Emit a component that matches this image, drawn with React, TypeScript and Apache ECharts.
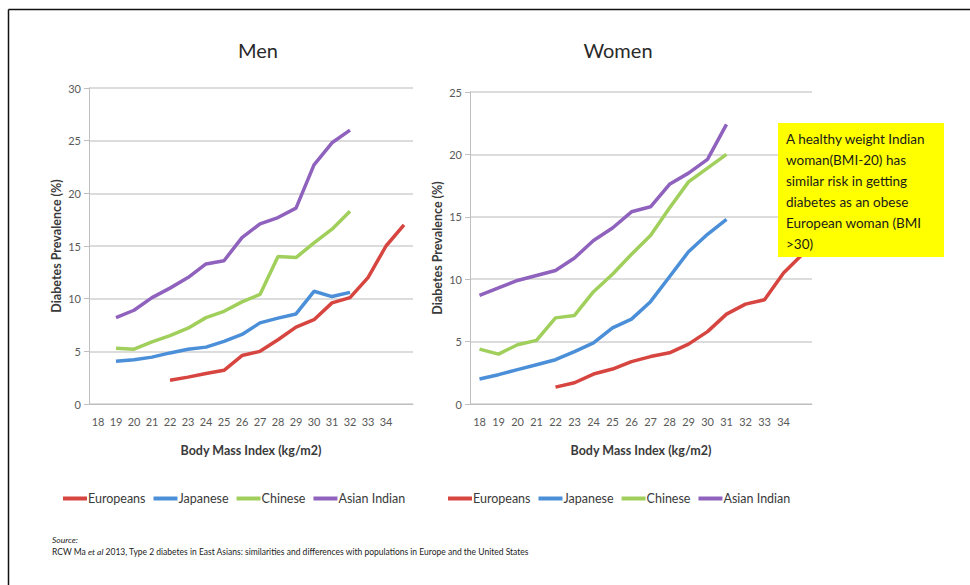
import React, { useEffect, useRef } from "react";
import * as echarts from "echarts";

const bmiLabels = ["18", "19", "20", "21", "22", "23", "24", "25", "26", "27", "28", "29", "30", "31", "32", "33", "34", ""];
const seriesNames = ["Europeans", "Japanese", "Chinese", "Asian Indian"];
const seriesColors = ["#d6453f", "#4a8fd8", "#a0cf5c", "#8f62bd"];

const menEuropeans = [null, null, null, null, 2.25, 2.55, 2.9, 3.2, 4.6, 5.0, 6.1, 7.3, 8.0, 9.6, 10.1, 12.0, 15.0, 17.0];
const menJapanese = [null, 4.05, 4.2, 4.45, 4.85, 5.2, 5.4, 5.95, 6.6, 7.7, 8.15, 8.55, 10.7, 10.2, 10.6, null, null, null];
const menChinese = [null, 5.3, 5.2, 5.9, 6.5, 7.2, 8.2, 8.8, 9.7, 10.4, 14.0, 13.9, 15.3, 16.6, 18.3, null, null, null];
const menAsianIndian = [null, 8.2, 8.9, 10.1, 11.0, 12.0, 13.3, 13.6, 15.8, 17.1, 17.7, 18.6, 22.7, 24.8, 26.0, null, null, null];

const womenEuropeans = [null, null, null, null, 1.35, 1.7, 2.4, 2.8, 3.4, 3.8, 4.1, 4.8, 5.8, 7.2, 8.0, 8.35, 10.5, 12.0];
const womenJapanese = [2.0, 2.35, 2.75, 3.15, 3.55, 4.2, 4.9, 6.1, 6.8, 8.2, 10.2, 12.2, 13.6, 14.8, null, null, null, null];
const womenChinese = [4.4, 4.0, 4.75, 5.1, 6.9, 7.1, 9.0, 10.4, 12.0, 13.5, 15.7, 17.8, 18.9, 20.0, null, null, null, null];
const womenAsianIndian = [8.7, 9.3, 9.9, 10.3, 10.7, 11.7, 13.1, 14.1, 15.4, 15.8, 17.6, 18.5, 19.6, 22.4, null, null, null, null];

const menYTicks = { min: 0, max: 30, interval: 5 };
const womenYTicks = { min: 0, max: 25, interval: 5 };

const boxLines = [
  "A healthy weight Indian",
  "woman(BMI-20) has",
  "similar risk in getting",
  "diabetes as an obese",
  "European woman (BMI",
  ">30)",
];

const FONT = "Lato, 'Open Sans', sans-serif";

export default function App() {
  const ref = useRef<HTMLDivElement>(null);
  useEffect(() => {
    if (!ref.current) return;
    const chart = echarts.init(ref.current, null, { renderer: "svg" });

    const menData = [menEuropeans, menJapanese, menChinese, menAsianIndian];
    const womenData = [womenEuropeans, womenJapanese, womenChinese, womenAsianIndian];

    const xAxisBase = (gridIndex: number) => ({
      gridIndex,
      type: "category",
      data: bmiLabels,
      boundaryGap: true,
      axisLine: { show: true, lineStyle: { color: "#bfbfbf", width: 1 } },
      axisTick: { show: false },
      axisLabel: { interval: 0, color: "#595959", fontSize: 11, margin: 12, fontFamily: FONT },
      name: "Body Mass Index (kg/m2)",
      nameLocation: "middle",
      nameGap: 40,
      nameTextStyle: { fontWeight: "bold", fontSize: 12.5, color: "#3a3a3a", fontFamily: FONT },
      splitLine: { show: false },
    });

    const yAxisBase = (gridIndex: number, t: { min: number; max: number; interval: number }) => ({
      gridIndex,
      type: "value",
      min: t.min,
      max: t.max,
      interval: t.interval,
      axisLine: { show: true, lineStyle: { color: "#bfbfbf", width: 1 } },
      axisTick: { show: true, length: 5, lineStyle: { color: "#bfbfbf" } },
      splitLine: { show: true, lineStyle: { color: "#d0d0d0", width: 1.5 } },
      axisLabel: { color: "#595959", fontSize: 11, margin: 8, fontFamily: FONT },
      name: "Diabetes Prevalence (%)",
      nameLocation: "middle",
      nameGap: 26,
      nameTextStyle: { fontWeight: "bold", fontSize: 12.5, color: "#3a3a3a", fontFamily: FONT },
    });

    const makeSeries = (data: (number | null)[][], idx: number) =>
      data.map((d, i) => ({
        name: seriesNames[i],
        type: "line",
        xAxisIndex: idx,
        yAxisIndex: idx,
        data: d,
        symbol: "none",
        connectNulls: false,
        lineStyle: { width: 3.5, color: seriesColors[i] },
        itemStyle: { color: seriesColors[i] },
        z: 3,
      }));

    const legendBase = (left: number) => ({
      left,
      top: 487,
      data: seriesNames,
      icon: "rect",
      itemWidth: 24,
      itemHeight: 4,
      itemGap: 8,
      selectedMode: false,
      textStyle: { fontSize: 12.5, color: "#3a3a3a", fontFamily: FONT, padding: [0, 0, 0, -4] },
    });

    const option = {
      animation: false,
      backgroundColor: "#ffffff",
      color: seriesColors,
      textStyle: { fontFamily: FONT },
      grid: [
        { left: 89, top: 88, width: 324, height: 316, containLabel: false },
        { left: 470, top: 92, width: 342, height: 312, containLabel: false },
      ],
      xAxis: [xAxisBase(0), xAxisBase(1)],
      yAxis: [yAxisBase(0, menYTicks), yAxisBase(1, womenYTicks)],
      legend: [legendBase(58), legendBase(443)],
      series: [...makeSeries(menData, 0), ...makeSeries(womenData, 1)],
      graphic: [
        {
          type: "line",
          shape: { x1: 8.5, y1: 9.5, x2: 970, y2: 9.5 },
          style: { stroke: "#111111", lineWidth: 1.5 },
          z: 100,
        },
        {
          type: "line",
          shape: { x1: 8.5, y1: 9.5, x2: 8.5, y2: 585 },
          style: { stroke: "#111111", lineWidth: 1.5 },
          z: 100,
        },
        {
          type: "text",
          x: 258,
          y: 50,
          style: { text: "Men", fontSize: 20, fill: "#2a2a2a", fontFamily: FONT, align: "center", verticalAlign: "middle" },
          z: 100,
        },
        {
          type: "text",
          x: 618,
          y: 50,
          style: { text: "Women", fontSize: 20, fill: "#2a2a2a", fontFamily: FONT, align: "center", verticalAlign: "middle" },
          z: 100,
        },
        {
          type: "group",
          z: 100,
          children: [
            {
              type: "rect",
              shape: { x: 778, y: 123, width: 166, height: 134 },
              style: { fill: "#ffff00" },
              z: 100,
            },
            {
              type: "text",
              x: 786,
              y: 128,
              style: {
                text: boxLines.join("\n"),
                fontSize: 13.5,
                lineHeight: 21,
                fill: "#1a1a1a",
                fontFamily: FONT,
                align: "left",
                verticalAlign: "top",
              },
              z: 101,
            },
          ],
        },
        {
          type: "text",
          x: 52,
          y: 540,
          style: { text: "Source:", fontSize: 8.5, fontStyle: "italic", fill: "#222222", fontFamily: FONT, verticalAlign: "middle" },
          z: 100,
        },
        {
          type: "text",
          x: 52,
          y: 552,
          style: {
            text: "{n|RCW Ma }{i|et al}{n| 2013, Type 2 diabetes in East Asians: similarities and differences with populations in Europe and the United States}",
            verticalAlign: "middle",
            rich: {
              n: { fontSize: 8.5, fill: "#222222", fontFamily: FONT },
              i: { fontSize: 8.5, fill: "#222222", fontFamily: FONT, fontStyle: "italic" },
            },
          },
          z: 100,
        },
      ],
    };

    chart.setOption(option as any);
    return () => chart.dispose();
  }, []);

  return (
    <div
      ref={ref}
      style={{ position: "fixed", left: 0, top: 0, width: 970, height: 585, background: "#ffffff" }}
    />
  );
}
